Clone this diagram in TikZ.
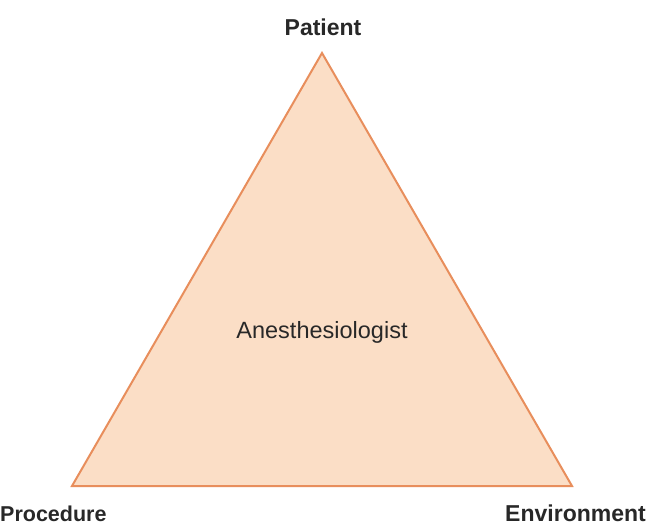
\documentclass[tikz,border=0pt]{standalone}
\usepackage{fontspec}
\setmainfont{Liberation Sans}
\definecolor{trifill}{RGB}{251,222,198}
\definecolor{tristroke}{RGB}{232,142,92}
\definecolor{txt}{RGB}{40,40,40}
\begin{document}
\begin{tikzpicture}[x=1pt,y=-1pt,
  corner/.style={font=\fontsize{23}{27}\selectfont\bfseries, text=txt, inner sep=0pt},
  center/.style={font=\fontsize{23.5}{27}\selectfont, text=txt, inner sep=0pt}]
\useasboundingbox[fill=white] (0,0) rectangle (648,525);
\coordinate (top) at (322,53);
\coordinate (bl) at (72,486);
\coordinate (br) at (572,486);
\draw[tristroke, fill=trifill, line width=2pt, line join=miter] (top) -- (br) -- (bl) -- cycle;
\node[corner, anchor=base] (patient) at (323,35) {Patient};
\node[corner, anchor=base west, font=\fontsize{21.5}{26}\selectfont\bfseries] (procedure) at (0,521) {Procedure};
\node[corner, anchor=base east] (environment) at (646,521) {Environment};
\node[center, anchor=base] (anes) at (322,338) {Anesthesiologist};
\end{tikzpicture}
\end{document}
